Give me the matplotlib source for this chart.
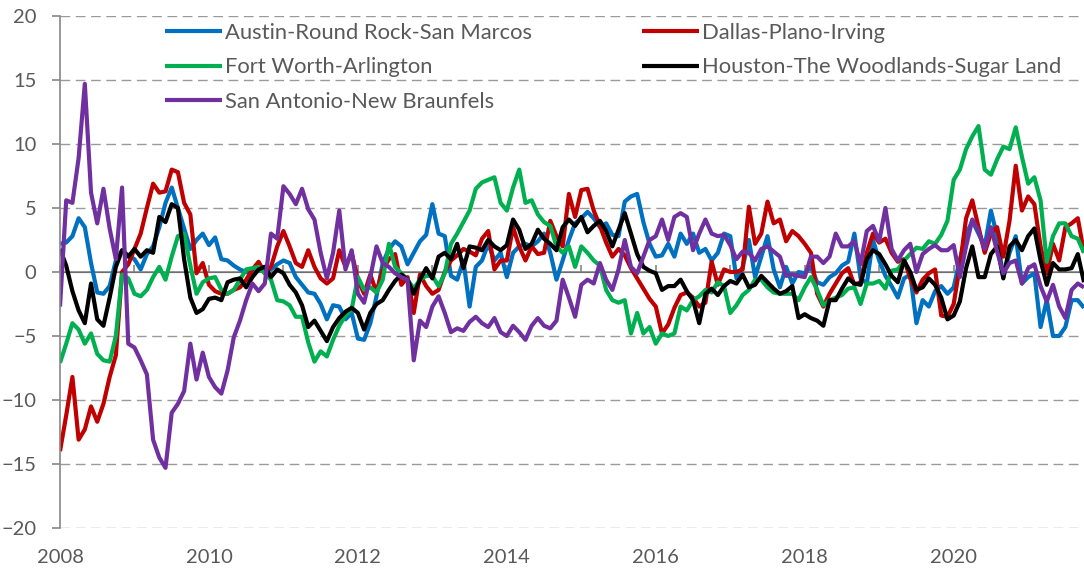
import matplotlib
matplotlib.use("Agg")
import matplotlib.pyplot as plt
import numpy as np

# monthly values, Jan 2008 .. Oct 2021
austin = [
    2.2, 2.3, 2.8, 4.2, 3.5, 0.7, -1.6, -1.7, -1.1, 0.9, 1.7, 1.3,
    1.0, 0.2, 1.4, 2.0, 3.5, 5.4, 6.6, 5.0, 3.4, 1.8, 2.5, 3.0,
    2.1, 2.7, 1.0, 0.9, 0.5, 0.2, 0.0, -0.1, 0.2, 0.4, 0.2, 0.6,
    0.9, 0.7, -0.4, -1.0, -1.6, -1.7, -2.5, -3.7, -2.6, -2.7, -3.7, -3.2,
    -5.2, -5.3, -4.0, -1.9, 0.7, 1.8, 2.4, 2.0, 0.6, 1.5, 2.4, 2.9,
    5.3, 3.0, 2.8, -0.3, -0.6, 0.9, -2.7, 0.4, 0.9, 2.2, 0.9, 1.5,
    -0.4, 1.5, 2.0, 2.2, 2.0, 2.4, 3.0, 1.5, -0.6, 0.9, 2.5, 3.8,
    4.2, 4.7, 4.2, 3.5, 3.8, 2.9, 2.8, 5.5, 5.9, 6.1, 3.9, 2.2,
    1.2, 1.3, 2.2, 1.2, 3.0, 2.2, 3.0, 1.5, 1.8, 0.9, 1.5, 3.0,
    2.8, -0.5, 0.4, 2.5, -0.4, 1.2, 2.8, 0.2, -1.2, 0.4, -0.9, 0.0,
    -0.1, 0.4, -0.8, -1.0, -0.4, -0.1, 0.5, 0.8, 3.0, -0.5, -0.9, 2.5,
    0.9, -0.3, -1.1, -2.0, -0.5, -0.2, -4.0, -2.2, -2.7, -1.5, -1.1, -1.7,
    -1.2, 1.0, 2.9, 4.0, 3.0, 2.0, 4.8, 2.8, -0.4, 1.5, 2.8, -0.9,
    -0.4, -0.1, -4.3, -2.2, -5.0, -5.0, -4.3, -2.2, -2.2, -2.8,
]
dallas = [
    -14.0, -11.2, -8.2, -13.1, -12.3, -10.5, -11.7, -10.3, -8.2, -6.5, 0.0, 0.6,
    1.8, 3.0, 5.0, 6.9, 6.2, 6.3, 8.0, 7.8, 5.4, 4.5, -0.1, 0.7,
    -1.0, -1.5, -1.7, -1.7, -1.4, -1.2, -0.6, 0.2, 0.8, -0.1, 0.4, 2.0,
    3.2, 2.0, 0.7, 0.4, 1.7, 0.4, -0.5, -0.9, -0.5, 1.7, 0.4, 1.5,
    -0.6, -1.7, -0.2, -1.6, 0.2, 1.0, 1.4, -1.0, -0.4, -3.2, -0.2, -1.1,
    -1.7, -1.4, 0.0, 0.9, 1.3, 1.8, 1.6, 1.3, 2.6, 3.2, 0.2, 0.9,
    0.9, 3.5, 2.0, 0.9, 2.0, 1.4, 1.5, 4.0, 2.8, 2.0, 6.1, 4.3,
    6.4, 6.5, 4.8, 3.6, 2.3, 1.2, 1.8, 1.3, 0.3, -0.5, -1.3, -2.1,
    -2.7, -4.8, -4.1, -2.8, -1.8, -1.6, -2.0, -2.7, -2.4, 0.8, -1.0, 0.2,
    0.0, 0.0, 0.2, 5.1, 2.2, 3.0, 5.5, 3.8, 4.1, 2.4, 3.2, 2.8,
    2.2, 1.5, -1.7, -2.7, -1.7, -0.9, -0.1, 0.3, -1.0, -0.8, 1.5, 3.0,
    2.3, 2.6, 1.5, 0.8, 1.0, -0.5, -1.6, -0.6, -0.1, 0.2, -3.4, -3.5,
    -2.5, 0.5, 4.2, 5.6, 3.5, 1.5, 3.0, 3.5, 1.2, 4.0, 8.3, 4.8,
    5.9, 5.3, 2.0, -0.1, 2.2, 0.9, 3.5, 3.8, 4.2, 1.5,
]
fort_worth = [
    -7.1, -5.6, -4.0, -4.5, -5.6, -4.8, -6.4, -6.9, -7.0, -5.0, -0.2, -0.5,
    -1.7, -1.9, -1.4, -0.4, 0.4, -0.6, 1.2, 2.8, 3.0, 0.5, -1.7, -0.8,
    -0.5, -0.4, -1.4, -1.7, -1.4, -0.6, 0.2, 0.3, 0.4, -0.1, -0.6, -2.2,
    -2.3, -2.6, -3.5, -3.5, -5.5, -7.0, -6.2, -6.6, -5.3, -4.2, -3.4, -2.9,
    -0.4, -1.4, -1.2, -1.6, -0.6, 2.2, 0.4, -0.1, -0.6, -1.3, -0.6, -0.3,
    -0.3, -1.1, -0.1, 2.2, 3.0, 3.9, 4.8, 6.5, 7.0, 7.2, 7.4, 5.4,
    4.8, 6.6, 8.0, 5.4, 5.6, 4.5, 3.9, 3.6, 2.0, 1.5, 2.0, 0.4,
    2.0, 1.5, 0.9, 0.5, -1.4, -2.2, -2.4, -2.2, -4.8, -3.2, -4.8, -4.3,
    -5.6, -4.8, -5.0, -4.8, -2.7, -3.0, -2.2, -1.9, -1.4, -1.6, -0.8, -1.1,
    -3.2, -2.6, -1.8, -1.4, -0.6, -0.6, -1.2, -1.6, -1.7, -1.7, -1.7, -2.2,
    -1.2, -0.4, -1.4, -2.6, -2.2, -2.0, -1.8, -1.3, -1.2, -2.5, -0.9, -0.9,
    -0.7, -1.3, 0.1, 0.2, 0.9, 1.4, 1.9, 1.8, 2.4, 2.2, 2.9, 4.0,
    7.2, 8.0, 9.6, 10.6, 11.4, 8.0, 7.6, 8.8, 9.8, 9.6, 11.3, 9.0,
    6.9, 7.4, 5.6, 0.8, 2.8, 3.8, 3.8, 2.8, 2.6, 1.5,
]
houston = [
    1.8, 0.5, -1.5, -3.0, -4.0, -0.9, -3.7, -4.2, -2.0, 0.4, 1.7, 1.2,
    1.8, 1.2, 1.7, 1.5, 4.3, 3.9, 5.3, 5.0, 1.0, -2.0, -3.2, -2.9,
    -2.1, -2.0, -2.2, -0.8, -0.6, -0.5, -1.2, -0.4, 0.2, 0.4, -0.4, 0.2,
    -0.1, -1.0, -1.6, -2.6, -4.3, -3.8, -4.6, -5.4, -4.3, -3.6, -3.1, -2.8,
    -3.2, -4.5, -3.2, -2.5, -2.2, -1.4, -0.7, -0.2, -0.6, -1.7, -0.6, 0.3,
    -0.5, 1.2, 1.5, 1.0, 2.2, 0.3, 2.0, 1.9, 1.7, 2.5, 2.0, 1.7,
    2.1, 4.1, 3.3, 1.8, 2.2, 3.3, 2.6, 2.2, 1.7, 3.5, 4.1, 3.6,
    4.3, 3.1, 3.6, 4.0, 3.2, 2.0, 3.3, 4.6, 3.0, 1.4, 0.4, 0.1,
    -0.1, -1.4, -1.1, -1.1, -0.6, -1.5, -2.2, -4.0, -1.7, -1.3, -1.8, -1.1,
    -0.7, -0.9, -0.2, -1.2, -1.0, -0.3, -0.8, -1.3, -1.7, -1.5, -1.1, -3.6,
    -3.3, -3.6, -3.8, -4.2, -2.2, -2.2, -1.3, -0.5, -0.9, -1.0, 1.0, 1.7,
    1.4, 0.6, -0.3, -0.8, 0.9, 0.0, -1.4, -1.2, -0.5, -1.0, -2.0, -3.7,
    -3.4, -2.3, 0.3, 2.0, -0.4, -0.4, 1.4, 2.0, -0.5, 2.0, 2.5, 1.7,
    2.8, 3.4, 0.9, -1.0, 0.7, 0.2, 0.2, 0.3, 1.4, -0.8,
]
san_antonio = [
    -2.7, 5.6, 5.4, 8.9, 14.7, 6.2, 3.8, 6.5, 3.4, 1.0, 6.6, -5.6,
    -5.9, -6.9, -8.0, -13.1, -14.5, -15.3, -11.0, -10.3, -9.3, -5.6, -8.4, -6.3,
    -8.2, -9.0, -9.5, -7.7, -5.1, -3.8, -2.2, -0.9, -1.5, -0.9, 3.0, 2.6,
    6.7, 6.1, 5.3, 6.5, 4.9, 4.1, 1.5, -0.5, 1.5, 4.8, 0.2, 1.7,
    -1.7, -2.4, -0.4, 2.0, 0.7, 0.4, -0.1, -0.4, -0.6, -6.9, -3.8, -4.3,
    -2.7, -1.9, -3.2, -4.7, -4.4, -4.6, -3.9, -3.5, -4.0, -4.3, -3.6, -4.7,
    -5.0, -4.2, -4.7, -5.3, -4.2, -3.6, -4.2, -4.4, -3.8, -0.6, -2.0, -3.5,
    -1.0, -0.6, -0.9, 0.7, -0.6, -1.4, 0.2, 2.5, 0.4, -0.1, 1.2, 2.5,
    2.8, 4.1, 2.5, 4.3, 4.6, 4.3, 1.7, 3.0, 4.1, 3.0, 2.8, 2.9,
    2.1, 1.0, 1.6, 1.5, 0.9, 1.8, 2.0, 1.6, 1.2, -0.3, -0.2, -0.3,
    -0.4, 1.2, 1.2, 0.7, 1.2, 3.0, 2.0, 2.0, 2.4, 0.6, 3.2, 3.6,
    2.4, 5.0, 1.8, 0.9, 1.7, 2.2, 0.0, 1.4, 1.8, 2.1, 1.7, 1.7,
    2.1, -0.4, 2.0, 4.1, 3.2, 1.8, 3.5, 1.6, -0.1, 0.7, 0.9, -0.9,
    0.3, 0.6, -1.1, -2.3, -1.0, -2.7, -3.6, -1.4, -0.9, -1.2,
]

names = ["Austin-Round Rock-San Marcos", "Dallas-Plano-Irving", "Fort Worth-Arlington",
         "Houston-The Woodlands-Sugar Land", "San Antonio-New Braunfels"]
colors = ["#0070C0", "#C00000", "#00B050", "#000000", "#7030A0"]
year_labels = ["2008", "2010", "2012", "2014", "2016", "2018", "2020"]

plt.rcParams["font.family"] = ["Lato", "DejaVu Sans"]
text_gray = "#595959"
axis_gray = "#868686"

fig = plt.figure(figsize=(10.84, 5.71), dpi=100)
ax = fig.add_axes([60 / 1084, 1 - 528 / 571, 1024 / 1084, 512 / 571])

months = np.arange(len(austin))
lines = []
for vals, name, c in zip([austin, dallas, fort_worth, houston, san_antonio], names, colors):
    ln, = ax.plot(months, vals, color=c, lw=3.0, label=name,
                  solid_joinstyle="round", solid_capstyle="butt")
    lines.append(ln)

ax.set_xlim(0, len(austin) - 1)
ax.set_ylim(-20, 20)

# horizontal dashed grid, zero line solid
for y in range(-20, 21, 5):
    if y == 0:
        continue
    ax.axhline(y, color="#9a9a9a", lw=1.0, ls=(0, (7, 4)), zorder=0)
ax.axhline(0, color=axis_gray, lw=1.2, zorder=0.5)

for s in ["top", "right", "bottom"]:
    ax.spines[s].set_visible(False)
ax.spines["left"].set_color(axis_gray)
ax.spines["left"].set_linewidth(1.2)

ax.set_yticks(range(-20, 21, 5))
ax.tick_params(axis="y", direction="out", length=6, width=1.2, color=axis_gray,
               labelcolor=text_gray, labelsize=14.5, pad=11)

ax.set_xticks(np.arange(0, 145, 24))
ax.set_xticklabels(year_labels)
ax.tick_params(axis="x", length=0, labelcolor=text_gray, labelsize=14.5, pad=15)

# yearly tick marks on the zero line
zero_ax = ax.secondary_xaxis(0.5)
year_ticks = np.arange(0, len(austin), 12)
zero_ax.set_xticks(year_ticks, labels=[""] * len(year_ticks))
zero_ax.tick_params(direction="out", length=5, width=1.2, color=axis_gray)
zero_ax.spines["bottom"].set_visible(False)

order = [0, 2, 4, 1, 3]
fig.legend([lines[i] for i in order], [names[i] for i in order], ncol=2,
           loc="upper left", bbox_to_anchor=(165 / 1084, 1 - 23 / 571),
           frameon=False, fontsize=15.8, labelcolor=text_gray,
           handlelength=2.6, handletextpad=0.15, columnspacing=5.0,
           labelspacing=0.66, borderpad=0, borderaxespad=0)

fig.savefig("out.png", dpi=100)
